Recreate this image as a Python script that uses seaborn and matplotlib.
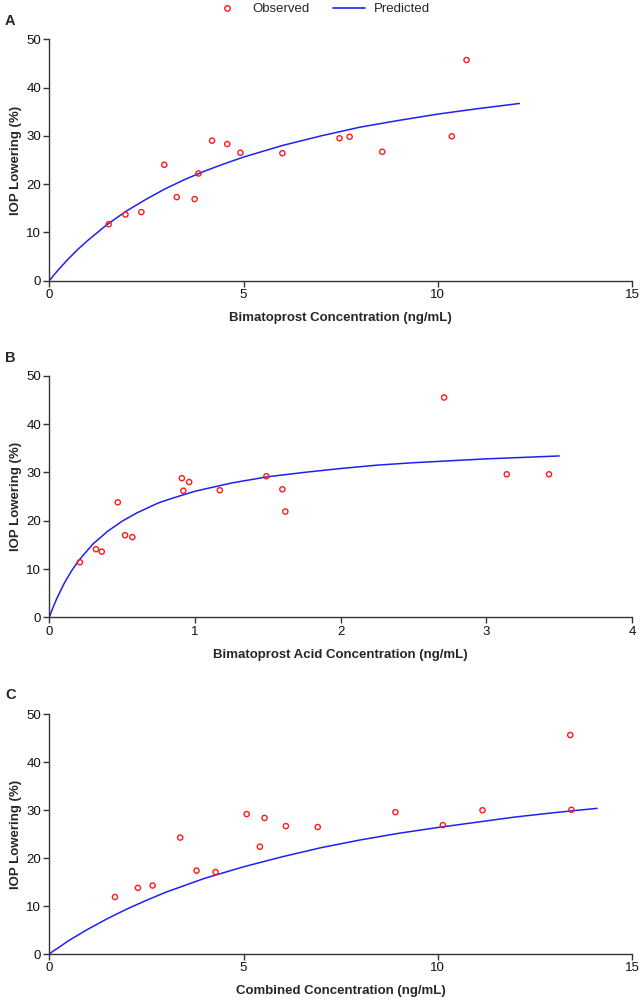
import pandas as pd
import matplotlib.pyplot as plt
import seaborn as sns
from matplotlib.lines import Line2D

# ---------------------------------------------------------
# Data (observed points + predicted curve)
# ---------------------------------------------------------
# Panel A: bimatoprost
obs_a_x = [1.53, 1.96, 2.37, 2.96, 3.28, 3.74, 3.84, 4.19, 4.58, 4.92, 6.00, 7.47, 7.73, 8.57, 10.36, 10.74]
obs_a_y = [11.7, 13.7, 14.2, 24.0, 17.3, 16.9, 22.2, 29.0, 28.3, 26.5, 26.4, 29.5, 29.8, 26.7, 29.9, 45.7]
pred_a_x = [0, 0.1, 0.25, 0.5, 0.75, 1, 1.5, 2, 2.5, 3, 3.5, 4, 4.5, 5, 6, 7, 8, 9, 10, 11, 12.1]
pred_a_y = [0, 1.0, 2.4, 4.6, 6.6, 8.4, 11.7, 14.5, 16.9, 19.1, 21.0, 22.7, 24.2, 25.6, 28.0, 30.0,
            31.8, 33.2, 34.5, 35.6, 36.7]

# Panel B: bimatoprost acid
obs_b_x = [0.21, 0.32, 0.36, 0.47, 0.52, 0.57, 0.91, 0.96, 0.92, 1.17, 1.49, 1.60, 1.62, 2.71, 3.14, 3.43]
obs_b_y = [11.4, 14.1, 13.6, 23.8, 17.0, 16.6, 28.8, 28.0, 26.2, 26.3, 29.2, 26.5, 21.9, 45.5, 29.6, 29.6]
pred_b_x = [0, 0.025, 0.05, 0.1, 0.15, 0.2, 0.3, 0.4, 0.5, 0.6, 0.75, 0.85, 1.0, 1.25, 1.5, 1.75,
            2.0, 2.25, 2.5, 3.0, 3.5]
pred_b_y = [0, 2.0, 3.8, 6.9, 9.5, 11.7, 15.2, 17.8, 19.9, 21.6, 23.7, 24.7, 26.1, 27.8, 29.1, 30.0,
            30.8, 31.5, 32.0, 32.8, 33.4]

# Panel C: combined
obs_c_x = [1.69, 2.28, 2.66, 3.37, 3.79, 4.28, 5.08, 5.42, 5.54, 6.09, 6.91, 8.91, 10.13, 11.15, 13.41, 13.44]
obs_c_y = [11.9, 13.8, 14.3, 24.3, 17.4, 17.1, 29.2, 22.4, 28.4, 26.7, 26.5, 29.6, 26.9, 30.0, 45.7, 30.1]
pred_c_x = [0, 0.1, 0.25, 0.5, 1, 1.5, 2, 2.5, 3, 4, 5, 6, 7, 8, 9, 10, 11, 12, 13, 14.1]
pred_c_y = [0, 0.6, 1.4, 2.8, 5.2, 7.4, 9.4, 11.2, 12.9, 15.8, 18.2, 20.3, 22.2, 23.8, 25.2, 26.4,
            27.5, 28.6, 29.5, 30.4]

panel_letters = ['A', 'B', 'C']
x_labels = ['Bimatoprost Concentration (ng/mL)',
            'Bimatoprost Acid Concentration (ng/mL)',
            'Combined Concentration (ng/mL)']
x_limits = [15, 4, 15]
x_ticks = [[0, 5, 10, 15], [0, 1, 2, 3, 4], [0, 5, 10, 15]]

panels = [
    (obs_a_x, obs_a_y, pred_a_x, pred_a_y),
    (obs_b_x, obs_b_y, pred_b_x, pred_b_y),
    (obs_c_x, obs_c_y, pred_c_x, pred_c_y),
]

# ---------------------------------------------------------
# Style
# ---------------------------------------------------------
sns.set_style('white')
plt.rcParams['font.family'] = ['Liberation Sans', 'DejaVu Sans']

RED = '#ff1a1a'
BLUE = '#2020f0'
AXCOL = '#333333'

fig = plt.figure(figsize=(6.42, 10.02), dpi=100)

# axes boxes [left, bottom, width, height] in figure fractions
boxes = [
    [0.0768, 0.7199, 0.9077, 0.2409],
    [0.0768, 0.3839, 0.9077, 0.2411],
    [0.0768, 0.0479, 0.9077, 0.2391],
]
letter_y = [0.979, 0.643, 0.306]

for i, (ox, oy, px, py) in enumerate(panels):
    ax = fig.add_axes(boxes[i])
    obs = pd.DataFrame({'x': ox, 'y': oy})
    pred = pd.DataFrame({'x': px, 'y': py})

    sns.lineplot(data=pred, x='x', y='y', color=BLUE, linewidth=1.1, ax=ax)
    sns.scatterplot(data=obs, x='x', y='y', marker='o', s=14,
                    facecolor='none', edgecolor=RED, linewidth=1.0, ax=ax, zorder=3)

    ax.set_xlim(0, x_limits[i])
    ax.set_ylim(0, 50)
    ax.set_xticks(x_ticks[i])
    ax.set_yticks([0, 10, 20, 30, 40, 50])
    ax.set_xlabel(x_labels[i], fontsize=9.5, fontweight='bold', labelpad=8)
    ax.set_ylabel('IOP Lowering (%)', fontsize=9.5, fontweight='bold', labelpad=3)

    sns.despine(ax=ax)
    for side in ['left', 'bottom']:
        ax.spines[side].set_color(AXCOL)
        ax.spines[side].set_linewidth(1.0)
    ax.tick_params(axis='both', direction='out', length=4, width=1.0,
                   color=AXCOL, labelsize=9.5, labelcolor='#111111', pad=2,
                   left=True, bottom=True)
    ax.grid(False)

    fig.text(0.008, letter_y[i], panel_letters[i], fontsize=10.5, fontweight='bold',
             ha='left', va='center')

# shared legend at the top
handles = [
    Line2D([], [], linestyle='none', marker='o', markersize=4,
           markerfacecolor='none', markeredgecolor=RED, markeredgewidth=1.0),
    Line2D([], [], color=BLUE, linewidth=1.2),
]
fig.legend(handles, ['Observed', 'Predicted'], loc='center', bbox_to_anchor=(0.5, 0.991),
           ncol=2, frameon=False, fontsize=9.5, handlelength=2.4, columnspacing=1.8,
           handletextpad=0.7, borderpad=0.2)

plt.savefig('out.png', dpi=100)
